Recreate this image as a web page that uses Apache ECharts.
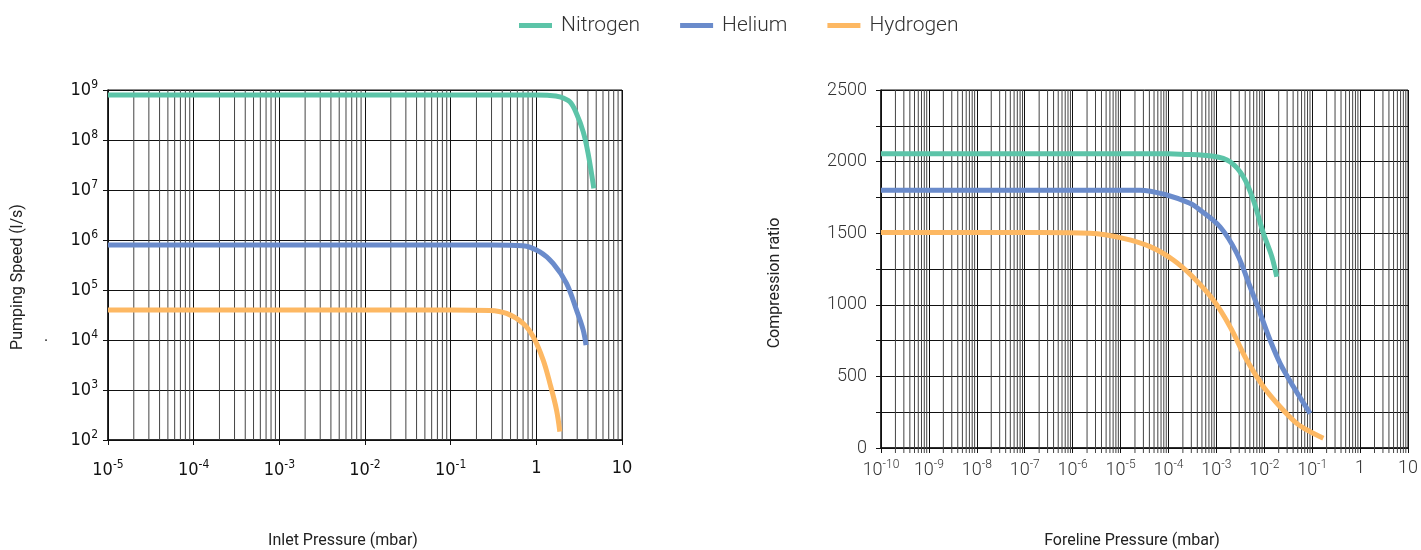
<!DOCTYPE html>
<html>
<head>
<meta charset="utf-8">
<script src="https://cdn.jsdelivr.net/npm/echarts@6/dist/echarts.min.js"></script>
<style>
  html, body { margin: 0; padding: 0; background: #fff; }
  #main { width: 1421px; height: 550px; }
</style>
</head>
<body>
<div id="main"></div>
<script>
const chart = echarts.init(document.getElementById('main'))

// left chart: pumping speed vs inlet pressure
const inletN2 = [1e-5, 1, 1.44, 1.88, 2.46, 2.94, 3.52, 4.02, 4.69]
const speedN2 = [7.9e8, 7.9e8, 7.8e8, 7.3e8, 5.8e8, 3.4e8, 1.47e8, 5.4e7, 1.08e7]
const inletHe = [1e-5, 0.3, 0.695, 1.1, 1.57, 2.25, 2.94, 3.52, 3.8]
const speedHe = [7.9e5, 7.9e5, 7.7e5, 5.8e5, 3.4e5, 1.36e5, 4e4, 1.6e4, 7.9e3]
const inletH2 = [1e-5, 0.1, 0.286, 0.449, 0.7, 0.92, 1.2, 1.44, 1.72, 1.88]
const speedH2 = [4e4, 4e4, 3.9e4, 3.4e4, 2.16e4, 1.16e4, 4e3, 1.36e3, 400, 147]

// right chart: compression ratio vs foreline pressure
const foreN2 = [1e-10, 1e-4, 1.75e-4, 8.65e-4, 1.93e-3, 3.66e-3, 5.9e-3, 9.6e-3, 0.0144, 0.0182]
const ratioN2 = [2055, 2055, 2052, 2037, 1999, 1894, 1732, 1499, 1336, 1196]
const foreHe = [1e-10, 2.55e-5, 9.2e-5, 2.8e-4, 4.57e-4, 1.19e-3, 2.67e-3, 5.06e-3, 8.2e-3, 0.0132, 0.0214, 0.0406, 0.0904]
const ratioHe = [1800, 1800, 1767, 1709, 1662, 1545, 1360, 1126, 941, 754, 591, 428, 242]
const foreH2 = [1e-10, 2.1e-7, 2.3e-6, 1.14e-5, 4.13e-5, 1.26e-4, 3.2e-4, 8.65e-4, 1.93e-3, 4.3e-3, 9.6e-3, 0.0214, 0.0476, 0.0904, 0.171]
const ratioH2 = [1505, 1505, 1499, 1464, 1406, 1313, 1196, 1033, 847, 614, 428, 288, 172, 114, 68]

const gasNames = ['Nitrogen', 'Helium', 'Hydrogen']
const gasColors = ['#5cc4a8', '#6a8bcb', '#fdb863']

const zip = (xs, ys) => xs.map((x, i) => [x, ys[i]])

// minor log grid lines (2..9 of every decade)
const minorValues = (e0, e1) => {
  let out = []
  for (let e = e0; e < e1; e++) {
    for (let m = 2; m <= 9; m++) out.push(m * Math.pow(10, e))
  }
  return out
}

const powLabel = (v) => {
  const e = Math.round(Math.log10(v))
  if (e === 0) return '1'
  if (e === 1) return '10'
  return '{b|10}{s|' + e + '}'
}

const narrow = "'Liberation Sans Narrow', 'DejaVu Sans Condensed', 'Roboto', sans-serif"
const richNarrow = {
  b: { fontSize: 18, lineHeight: 22, fontFamily: narrow, color: '#111' },
  s: { fontSize: 12, lineHeight: 12, fontFamily: narrow, color: '#111', verticalAlign: 'top' }
}
const richLight = {
  b: { fontSize: 18, lineHeight: 22, fontFamily: 'Roboto', fontWeight: 300, color: '#333' },
  s: { fontSize: 12, lineHeight: 12, fontFamily: 'Roboto', fontWeight: 300, color: '#333', verticalAlign: 'top' }
}

const curve = (name, idx, data, color) => ({
  name: name,
  type: 'line',
  xAxisIndex: idx,
  yAxisIndex: idx,
  data: data,
  smooth: 0.35,
  showSymbol: false,
  symbol: 'none',
  z: 5,
  lineStyle: { color: color, width: 5, cap: 'butt' },
  itemStyle: { color: color }
})

// vertical minor lines, drawn through the axis scale
const minorGrid = (idx, values, yRef, ext) => ({
  type: 'custom',
  xAxisIndex: idx,
  yAxisIndex: idx,
  data: values.map(v => [v, yRef]),
  encode: { x: 0, y: 1 },
  silent: true,
  clip: false,
  z: 1,
  renderItem: (params, api) => {
    const p = api.coord([api.value(0), api.value(1)])
    const cs = params.coordSys
    return {
      type: 'line',
      shape: { x1: p[0], y1: cs.y, x2: p[0], y2: cs.y + cs.height + ext },
      style: { stroke: '#444', lineWidth: 1 }
    }
  }
})

const title = (text, x, y, rot) => ({
  type: 'text', x: x, y: y, rotation: rot,
  style: { text: text, fontSize: 16, fontFamily: 'Roboto', fill: '#222', align: 'center', verticalAlign: 'middle' }
})

let option = {
  animation: false,
  backgroundColor: '#fff',
  legend: {
    data: gasNames.map(n => ({ name: n, icon: 'rect' })),
    left: 514,
    top: 10,
    itemWidth: 33,
    itemHeight: 5,
    itemGap: 40,
    textStyle: { fontSize: 21, color: '#333', fontFamily: 'Roboto', fontWeight: 300, padding: [0, 0, 0, 4] }
  },
  grid: [
    { left: 108, right: 799, top: 90, bottom: 110, show: true, borderColor: '#111', borderWidth: 1 },
    { left: 881, right: 13, top: 90, bottom: 102, show: true, borderColor: '#111', borderWidth: 1 }
  ],
  xAxis: [{
    type: 'log',
    gridIndex: 0,
    logBase: 10,
    min: 1e-5,
    max: 10,
    axisLine: { lineStyle: { color: '#111', width: 1.5 } },
    axisTick: { show: true, length: 5, lineStyle: { color: '#111' } },
    splitLine: { show: true, lineStyle: { color: '#111', width: 1 } },
    axisLabel: { margin: 19, formatter: powLabel, rich: richNarrow, fontSize: 18, fontFamily: narrow, color: '#111' }
  }, {
    type: 'log',
    gridIndex: 1,
    logBase: 10,
    min: 1e-10,
    max: 10,
    interval: 1,
    axisLine: { lineStyle: { color: '#111', width: 1.5 } },
    axisTick: { show: true, length: 5, lineStyle: { color: '#111' } },
    splitLine: { show: true, lineStyle: { color: '#111', width: 1 } },
    axisLabel: { margin: 11, formatter: powLabel, rich: richLight, fontSize: 18, fontFamily: 'Roboto', fontWeight: 300, color: '#333' }
  }],
  yAxis: [{
    type: 'log',
    gridIndex: 0,
    logBase: 10,
    min: 1e2,
    max: 1e9,
    axisLine: { lineStyle: { color: '#111', width: 1.5 } },
    axisTick: { show: true, length: 5, lineStyle: { color: '#111' } },
    splitLine: { show: true, lineStyle: { color: '#111', width: 1 } },
    axisLabel: { margin: 10, formatter: powLabel, rich: richNarrow, fontSize: 18, fontFamily: narrow, color: '#111' }
  }, {
    type: 'value',
    gridIndex: 1,
    min: 0,
    max: 2500,
    interval: 250,
    axisLine: { show: true, lineStyle: { color: '#111', width: 1.5 } },
    axisTick: { show: true, length: 5, lineStyle: { color: '#111' } },
    splitLine: { show: true, lineStyle: { color: '#111', width: 1 } },
    axisLabel: {
      margin: 14, fontSize: 18, fontFamily: 'Roboto', fontWeight: 300, color: '#333',
      formatter: (v) => v % 500 === 0 ? String(v) : ''
    }
  }],
  graphic: [
    title('Pumping Speed (l/s)', 18, 277, Math.PI / 2),
    { type: 'text', x: 44, y: 329, style: { text: '.', fontSize: 16, fontFamily: 'Roboto', fill: '#222' } },
    title('Compression ratio', 775, 283, Math.PI / 2),
    title('Inlet Pressure (mbar)', 343, 541, 0),
    title('Foreline Pressure (mbar)', 1132, 541, 0)
  ],
  series: [
    minorGrid(0, minorValues(-5, 1), 1e2, 0),
    minorGrid(1, minorValues(-10, 1), 0, 5),
    curve('Nitrogen', 0, zip(inletN2, speedN2), gasColors[0]),
    curve('Helium', 0, zip(inletHe, speedHe), gasColors[1]),
    curve('Hydrogen', 0, zip(inletH2, speedH2), gasColors[2]),
    curve('Nitrogen', 1, zip(foreN2, ratioN2), gasColors[0]),
    curve('Helium', 1, zip(foreHe, ratioHe), gasColors[1]),
    curve('Hydrogen', 1, zip(foreH2, ratioH2), gasColors[2])
  ]
}

chart.setOption(option)
</script>
</body>
</html>
